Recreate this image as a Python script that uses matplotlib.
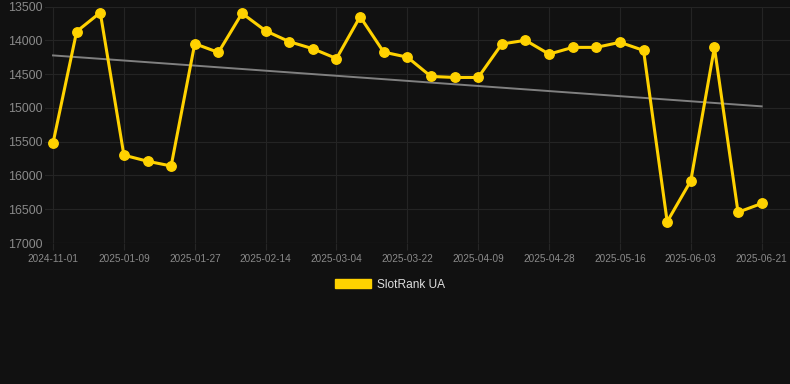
import matplotlib
matplotlib.use("Agg")
import matplotlib.pyplot as plt
from matplotlib.patches import Patch
import numpy as np

dates = ["2024-11-01", "2024-11-24", "2024-12-17", "2025-01-09", "2025-01-15", "2025-01-21",
         "2025-01-27", "2025-02-02", "2025-02-08", "2025-02-14", "2025-02-20", "2025-02-26",
         "2025-03-04", "2025-03-10", "2025-03-16", "2025-03-22", "2025-03-28", "2025-04-03",
         "2025-04-09", "2025-04-15", "2025-04-22", "2025-04-28", "2025-05-04", "2025-05-10",
         "2025-05-16", "2025-05-22", "2025-05-28", "2025-06-03", "2025-06-09", "2025-06-15",
         "2025-06-21"]
rank = [15520, 13870, 13590, 15700, 15790, 15860,
        14050, 14180, 13600, 13860, 14020, 14125,
        14270, 13650, 14175, 14250, 14535, 14550,
        14550, 14055, 14000, 14205, 14105, 14105,
        14030, 14150, 16685, 16080, 14105, 16545,
        16415]
series_name = "SlotRank UA"
yticks = [13500, 14000, 14500, 15000, 15500, 16000, 16500, 17000]

bg = "#111111"
fig = plt.figure(figsize=(7.9, 3.84), dpi=100, facecolor=bg)
ax = fig.add_axes([45/790, 1-243/384, 1-45/790, (243-6.5)/384])
ax.set_facecolor(bg)

x = np.arange(len(dates))
coef = np.polyfit(x, rank, 1)
ax.plot(x, np.polyval(coef, x), color="#808080", lw=1.4, zorder=2)
ax.plot(x, rank, color="#FFD200", lw=2.2, marker="o", ms=6.8, zorder=3)

ax.set_xlim(-0.34, 31.2)
ax.set_ylim(17000, 13500)
ax.set_yticks(yticks)
ax.set_yticklabels([str(v) for v in yticks])
tick_idx = list(range(0, len(dates), 3))
ax.set_xticks(tick_idx)
ax.set_xticklabels([dates[i] for i in tick_idx])

ax.grid(True, color="#242424", lw=0.8)
for s in ax.spines.values():
    s.set_visible(False)
ax.axhline(17000, color="#2a2a2a", lw=0.8)
ax.tick_params(axis="y", length=0, pad=1.5, labelsize=8.9, labelcolor="#8a8a8a")
ax.tick_params(axis="x", length=5, color="#262626", pad=3, labelsize=7.2, labelcolor="#8a8a8a")
for t in ax.get_yticklabels() + ax.get_xticklabels():
    t.set_fontfamily("Liberation Sans")

leg = fig.legend(handles=[Patch(facecolor="#FFD200", edgecolor="#FFD200")], labels=[series_name],
                 loc="center", bbox_to_anchor=(390/790, 1-284.5/384), frameon=False,
                 handlelength=3.0, handleheight=0.85, handletextpad=0.45,
                 prop={"family": "Liberation Sans", "size": 8.6})
for t in leg.get_texts():
    t.set_color("#dddddd")

fig.savefig("out.png", dpi=100, facecolor=bg)
